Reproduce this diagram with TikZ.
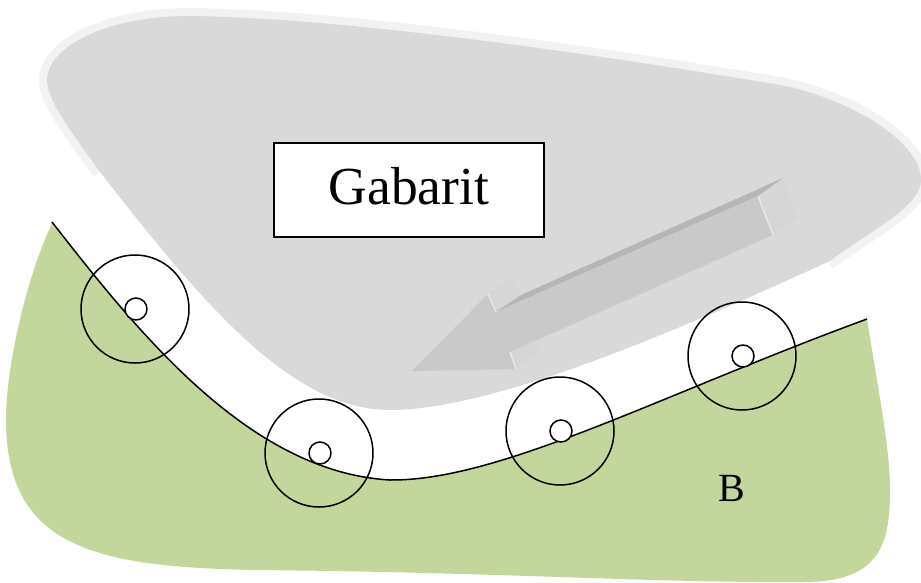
\documentclass[tikz,border=0pt]{standalone}
\usepackage{fontspec}
\setmainfont{Liberation Serif}
\usetikzlibrary{positioning}
\definecolor{groundgreen}{HTML}{C3D69B}
\definecolor{gabaritgray}{HTML}{D9D9D9}
\definecolor{bandgray}{HTML}{F2F2F2}
\definecolor{arrowgray}{HTML}{C9C9C9}
\definecolor{arrowdark}{HTML}{B6B6B6}
\definecolor{arrowside}{HTML}{D6D6D6}
\definecolor{arrowedge}{HTML}{E9E9E9}
\tikzset{
    wheel/.style={circle, draw=black, line width=1.5pt, minimum size=108pt, inner sep=0pt},
    axle/.style={circle, draw=black, line width=1.5pt, fill=white, minimum size=22pt, inner sep=0pt},
    arrowedgeline/.style={arrowedge, line width=1.3pt},
}
\begin{document}
\begin{tikzpicture}[x=1pt, y=-1pt]
        \useasboundingbox (0,0) rectangle (921,583);
        % ground, its upper side is the road
        \fill [groundgreen] (52,222) .. controls (140,335) and (250,472) .. (390,480)
            .. controls (500,481) and (660,395) .. (867,319)
            .. controls (880,400) and (890,450) .. (890,490)
            .. controls (890,545) and (880,583) .. (800,582)
            .. controls (650,583) and (500,572) .. (250,570)
            .. controls (100,566) and (6,550) .. (6,420)
            .. controls (6,360) and (30,270) .. (50,228) -- cycle;
        \begin{scope}
            \clip (0,0) rectangle (921,583);
            % light band, then body of the gauge
            \draw [bandgray, line width=16pt] (100,172) .. controls (70,130) and (47,100) .. (47,80)
                .. controls (47,50) and (100,16) .. (190,16)
                .. controls (350,18) and (600,55) .. (780,85)
                .. controls (845,97) and (921,140) .. (921,180)
                .. controls (921,205) and (880,225) .. (828,262);
            \fill [gabaritgray] (100,172) .. controls (70,130) and (47,100) .. (47,80)
                .. controls (47,50) and (100,16) .. (190,16)
                .. controls (350,18) and (600,55) .. (780,85)
                .. controls (845,97) and (921,140) .. (921,180)
                .. controls (921,205) and (880,225) .. (828,262)
                .. controls (700,320) and (500,410) .. (390,410)
                .. controls (290,410) and (200,300) .. (100,172) -- cycle;
        \end{scope}
        % arrow
        \fill [arrowside] (758,196) -- (783,178) -- (797,218) -- (773,235) -- cycle;
        \fill [arrowside] (488,294) -- (513,278) -- (521,295) -- (496,312) -- cycle;
        \fill [arrowside] (510,352) -- (537,342) -- (541,352) -- (516,369) -- cycle;
        \fill [arrowdark] (496,312) -- (521,295) -- (783,178) -- (758,196) -- cycle;
        \fill [arrowgray] (412,371) -- (516,369) -- (510,352) -- (773,235) -- (758,196) -- (496,312) -- (488,294) -- cycle;
        \draw [arrowedgeline] (758,196) -- (773,235);
        \draw [arrowedgeline] (488,294) -- (496,312);
        \draw [arrowedgeline] (510,352) -- (516,369);
        % road
        \draw [line width=1.5pt] (52,222) .. controls (140,335) and (250,472) .. (390,480)
            .. controls (500,481) and (660,395) .. (867,319);
        % wheels
        \node [wheel] (wheelA) at (135,309) {};
        \node [wheel] (wheelB) at (319,453) {};
        \node [wheel] (wheelC) at (560,431) {};
        \node [wheel] (wheelD) at (742,356) {};
        \node [axle] (axleA) at (136,309) {};
        \node [axle] (axleB) at (320,453) {};
        \node [axle] (axleC) at (561,431) {};
        \node [axle] (axleD) at (743,356) {};
        % labels
        \node [draw=black, line width=1.5pt, fill=white, minimum width=270pt, minimum height=94pt, inner sep=0pt, text depth=8pt, font=\fontsize{53.5}{60}\selectfont] (gabarit) at (409,190) {Gabarit};
        \node [font=\fontsize{40}{44}\selectfont, inner sep=0pt] (labelB) at (732,488) {B};
    \end{tikzpicture}
\end{document}
